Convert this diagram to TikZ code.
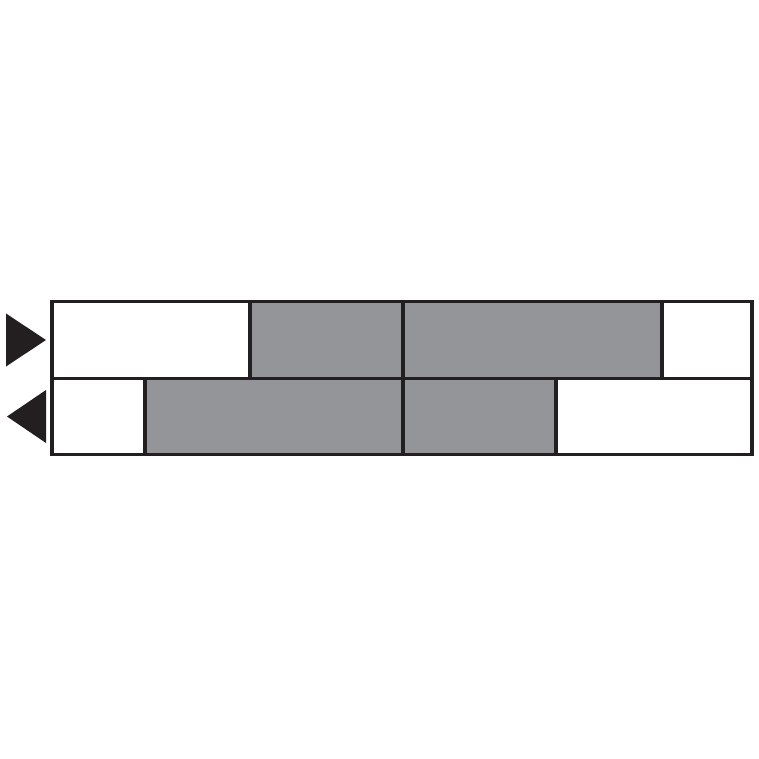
\documentclass[tikz,border=0pt]{standalone}
\usetikzlibrary{positioning}
\definecolor{cellgray}{RGB}{147,149,152}
\definecolor{inkblack}{RGB}{35,31,32}
\begin{document}
\begin{tikzpicture}
[x=1pt, y=-1pt,
cell/.style={draw=inkblack, line width=3.3pt, inner sep=0pt, outer sep=0pt, minimum height=76.5pt},
full/.style={cell, fill=cellgray},
empty/.style={cell, fill=white},
marker/.style={fill=inkblack}
]
  \useasboundingbox (0,0) rectangle (759,759);

  % top row
  \node[empty, anchor=west, minimum width=198pt] (top1) at (52,340) {};
  \node[full, minimum width=153pt]  (top2) [right=0pt of top1] {};
  \node[full, minimum width=259pt]  (top3) [right=0pt of top2] {};
  \node[empty, minimum width=90pt]  (top4) [right=0pt of top3] {};

  % bottom row
  \node[empty, anchor=west, minimum width=93pt] (bot1) at (52,416.5) {};
  \node[full, minimum width=258pt]  (bot2) [right=0pt of bot1] {};
  \node[full, minimum width=153pt]  (bot3) [right=0pt of bot2] {};
  \node[empty, minimum width=196pt] (bot4) [right=0pt of bot3] {};

  % direction markers
  \fill[marker] ([xshift=-6pt]top1.west) -- ++(-40,-26.5) -- ++(0,53) -- cycle;
  \fill[marker] ([xshift=-45pt]bot1.west) -- ++(39,-26.5) -- ++(0,53) -- cycle;
\end{tikzpicture}
\end{document}
